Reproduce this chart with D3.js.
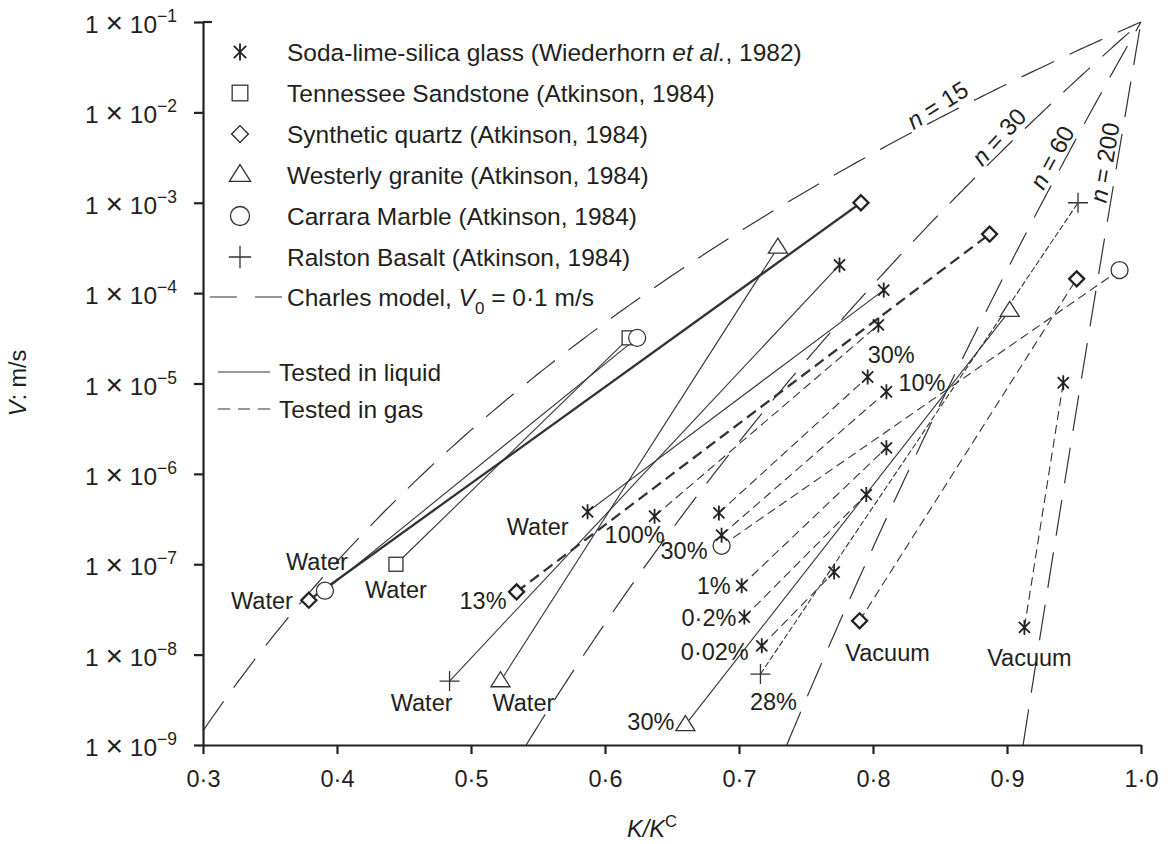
<!DOCTYPE html>
<html>
<head>
<meta charset="utf-8">
<script src="https://cdn.jsdelivr.net/npm/d3@7"></script>
<style>
  body { margin: 0; background: #fff; }
  text { font-family: "Liberation Sans", Arial, sans-serif; fill: #231f20; }
</style>
</head>
<body>
<div id="viz"></div>
<script>

// axis ticks
const xTicks = [0.3, 0.4, 0.5, 0.6, 0.7, 0.8, 0.9, 1.0];
const yTickExps = [-1, -2, -3, -4, -5, -6, -7, -8, -9];

// Charles model V = V0 (K/Kc)^n
const charlesV0 = 0.1;
const charlesN = [15, 30, 60, 200];
const charlesLabelK = [0.853, 0.9007, 0.9418, 0.982];

// test lines, low end (K1, V1) -> high end (K2, V2)
const segMaterial = ["quartz", "quartz", "quartz", "sandstone", "marble", "marble", "granite", "granite", "basalt", "basalt",
                     "glass", "glass", "glass", "glass", "glass", "glass", "glass", "glass"];
const segEnv = ["Water", "13%", "Vacuum", "Water", "Water", "30%", "Water", "30%", "Water", "28%",
                "Water", "100%", "30%", "10%", "1%", "0·2%", "0·02%", "Vacuum"];
const segStyle = ["solid", "dashed", "dashed", "solid", "solid", "dashed", "solid", "solid", "solid", "dashed",
                  "solid", "dashed", "dashed", "dashed", "dashed", "dashed", "dashed", "dashed"];
const segK1 = [0.379, 0.534, 0.790, 0.444, 0.391, 0.687, 0.522, 0.660, 0.484, 0.716,
               0.587, 0.637, 0.685, 0.687, 0.702, 0.704, 0.717, 0.913];
const segV1 = [4.0e-8, 4.95e-8, 2.37e-8, 1.0e-7, 5.1e-8, 1.6e-7, 5.1e-9, 1.67e-9, 5.1e-9, 6.1e-9,
               3.8e-7, 3.4e-7, 3.7e-7, 2.1e-7, 5.8e-8, 2.6e-8, 1.25e-8, 2.0e-8];
const segK2 = [0.791, 0.887, 0.952, 0.618, 0.624, 0.984, 0.729, 0.902, 0.775, 0.953,
               0.808, 0.804, 0.796, 0.810, 0.810, 0.795, 0.771, 0.942];
const segV2 = [1.0e-3, 4.5e-4, 1.44e-4, 3.2e-5, 3.2e-5, 1.8e-4, 3.2e-4, 6.4e-5, 2.05e-4, 1.0e-3,
               1.08e-4, 4.45e-5, 1.18e-5, 8.1e-6, 1.94e-6, 5.9e-7, 8.2e-8, 1.02e-5];
// which end carries the text label (1 = low end, 2 = high end)
const segLabelEnd = [1, 1, 1, 1, 1, 1, 1, 1, 1, 1, 1, 1, 2, 2, 1, 1, 1, 1];

const materialShape = { quartz: "diamond", sandstone: "square", marble: "circle", granite: "triangle", basalt: "plus", glass: "star" };

const legendShapes = ["star", "square", "diamond", "triangle", "circle", "plus"];
const legendTexts = [
    [["Soda-lime-silica glass (Wiederhorn ", ""], ["et al.", "i"], [", 1982)", ""]],
    [["Tennessee Sandstone (Atkinson, 1984)", ""]],
    [["Synthetic quartz (Atkinson, 1984)", ""]],
    [["Westerly granite (Atkinson, 1984)", ""]],
    [["Carrara Marble (Atkinson, 1984)", ""]],
    [["Ralston Basalt (Atkinson, 1984)", ""]]
];

const W = 1168, H = 844;
const svg = d3.select("#viz").append("svg").attr("width", W).attr("height", H);

const x = d3.scaleLinear().domain([0.3, 1.0]).range([203, 1141]);
const y = d3.scaleLog().domain([1e-9, 1e-1]).range([745, 22]);

const ink = "#333";

// label layout (px offsets from the labelled end)
const labelDx = [-16, -10, 28, 0, -8, -14, -8, -11, 3, 13, -19, -50, 0, 12, -11, -8, -13, 5];
const labelDy = [9, 17, 40, 34, -21, 13, 30, 5, 30, 36, 23, 27, -14, -1, 8, 9, 14, 39];
const labelAnchor = ["end", "end", "middle", "middle", "middle", "end", "start", "end", "end", "middle",
                     "end", "start", "start", "start", "end", "end", "end", "middle"];
const nLabelTilt = [-5, -3, 0, 0];

// ---- Charles model lines
const charlesLine = d3.line().x(d => x(d[0])).y(d => y(d[1]));
const cg = svg.append("g");
charlesN.forEach(function (n, i) {
    const kmin = Math.max(0.3, Math.pow(1e-9 / charlesV0, 1 / n));
    const pts = d3.range(0, 201).map(j => {
        const k = kmin + (1 - kmin) * j / 200;
        return [k, charlesV0 * Math.pow(k, n)];
    });
    cg.append("path")
        .attr("d", charlesLine(pts))
        .attr("fill", "none")
        .attr("stroke", ink)
        .attr("stroke-width", 1.2)
        .attr("stroke-dasharray", "36,17");

    // rotated n label
    const k = charlesLabelK[i];
    const px = x(k), py = y(charlesV0 * Math.pow(k, n));
    const k2 = k + 0.001;
    const ang = Math.atan2(y(charlesV0 * Math.pow(k2, n)) - py, x(k2) - px) * 180 / Math.PI + nLabelTilt[i];
    const t = cg.append("text")
        .attr("transform", `translate(${px},${py}) rotate(${ang})`)
        .attr("y", -4)
        .attr("text-anchor", "middle")
        .style("font-size", "24px");
    t.append("tspan").style("font-style", "italic").text("n");
    t.append("tspan").text(" = " + n);
});

// ---- test lines
const sg = svg.append("g");
segK1.forEach(function (k1, i) {
    const isBold = segMaterial[i] == "quartz" && segEnv[i] != "Vacuum";
    let dash = null;
    if (segStyle[i] == "dashed") dash = isBold ? "11,6" : "9,5";
    if (segMaterial[i] == "basalt" && segStyle[i] == "dashed") dash = "6,2.5";
    sg.append("line")
        .attr("x1", x(k1)).attr("y1", y(segV1[i]))
        .attr("x2", x(segK2[i])).attr("y2", y(segV2[i]))
        .attr("stroke", ink)
        .attr("stroke-width", isBold ? 2.3 : 1.1)
        .attr("stroke-dasharray", dash);
});

function marker(g, shape, cx, cy, sw, big) {
    const s = big ? 1.12 : 1;
    if (shape == "star") {
        const r = 7.5 * s, d = r * 0.74;
        g.append("path")
            .attr("d", `M${cx},${cy - r}V${cy + r}M${cx - d},${cy - d}L${cx + d},${cy + d}M${cx - d},${cy + d}L${cx + d},${cy - d}`)
            .attr("stroke", "#222").attr("stroke-width", 1.8).attr("fill", "none");
    } else if (shape == "square") {
        const h = 7 * s;
        g.append("rect").attr("x", cx - h).attr("y", cy - h).attr("width", 2 * h).attr("height", 2 * h)
            .attr("fill", "#fff").attr("stroke", ink).attr("stroke-width", sw);
    } else if (shape == "diamond") {
        const h = 7.5 * s;
        g.append("path").attr("d", `M${cx},${cy - h}L${cx + h},${cy}L${cx},${cy + h}L${cx - h},${cy}Z`)
            .attr("fill", "#fff").attr("stroke", "#222").attr("stroke-width", sw);
    } else if (shape == "triangle") {
        const w = 9.5 * s, h = 15 * s;
        g.append("path").attr("d", `M${cx},${cy - h * 0.62}L${cx + w},${cy + h * 0.38}L${cx - w},${cy + h * 0.38}Z`)
            .attr("fill", "#fff").attr("stroke", ink).attr("stroke-width", sw);
    } else if (shape == "circle") {
        g.append("circle").attr("cx", cx).attr("cy", cy).attr("r", 8.5 * s)
            .attr("fill", "#fff").attr("stroke", ink).attr("stroke-width", sw);
    } else if (shape == "plus") {
        const r = 10 * s;
        g.append("path").attr("d", `M${cx - r},${cy}H${cx + r}M${cx},${cy - r}V${cy + r}`)
            .attr("stroke", ink).attr("stroke-width", 1.3).attr("fill", "none");
    }
}

// ---- markers
const mg = svg.append("g");
segK1.forEach(function (k1, i) {
    const shape = materialShape[segMaterial[i]];
    const sw = shape == "diamond" ? 2.3 : 1.3;
    marker(mg, shape, x(k1), y(segV1[i]), sw, false);
    // the basalt water line tops out on a glass point
    const topShape = (segMaterial[i] == "basalt" && segEnv[i] == "Water") ? "star" : shape;
    marker(mg, topShape, x(segK2[i]), y(segV2[i]), sw, false);
});

// ---- point labels
const lg = svg.append("g");
segEnv.forEach(function (txt, i) {
    const k = segLabelEnd[i] == 1 ? segK1[i] : segK2[i];
    const v = segLabelEnd[i] == 1 ? segV1[i] : segV2[i];
    lg.append("text")
        .attr("x", x(k) + labelDx[i])
        .attr("y", y(v) + labelDy[i])
        .attr("text-anchor", labelAnchor[i])
        .style("font-size", "23.5px")
        .text(txt);
});

// ---- axes
const xAxis = d3.axisBottom(x)
    .tickValues(xTicks)
    .tickSize(9)
    .tickSizeOuter(0)
    .tickPadding(16)
    .tickFormat(d => d3.format(".1f")(d).replace(".", "·"));
const gx = svg.append("g").attr("transform", "translate(0,745)").call(xAxis);
gx.select(".domain").attr("stroke", "#222").attr("stroke-width", 2.2);
gx.selectAll(".tick line").attr("stroke", "#222").attr("stroke-width", 2.2);
gx.selectAll(".tick text").style("font-size", "23.5px").attr("fill", "#231f20")
    .style("font-family", "'Liberation Sans', Arial, sans-serif");

const yAxis = d3.axisLeft(y)
    .tickValues(yTickExps.map(e => Math.pow(10, e)))
    .tickSize(9)
    .tickSizeOuter(0)
    .tickFormat("");
const gy = svg.append("g").attr("transform", "translate(203,0)").call(yAxis);
gy.select(".domain").attr("stroke", "#222").attr("stroke-width", 2.2);
gy.selectAll(".tick line").attr("stroke", "#222").attr("stroke-width", 2.2);
// cap on top
svg.append("line").attr("x1", 203).attr("x2", 212).attr("y1", y(1e-1)).attr("y2", y(1e-1))
    .attr("stroke", "#222").attr("stroke-width", 2.2);

yTickExps.forEach(function (e) {
    const t = svg.append("text")
        .attr("x", 177)
        .attr("y", y(Math.pow(10, e)) + 11)
        .attr("text-anchor", "end")
        .style("font-size", "24.5px");
    t.append("tspan").text("1 ");
    t.append("tspan").style("font-size", "30px").text("×");
    t.append("tspan").text(" 10");
    t.append("tspan").attr("dy", -11).style("font-size", "17.5px").text("−" + (-e));
});

// axis titles
const yt = svg.append("text")
    .attr("transform", "translate(26,383) rotate(-90)")
    .attr("text-anchor", "middle")
    .style("font-size", "23.5px");
yt.append("tspan").style("font-style", "italic").text("V");
yt.append("tspan").text(": m/s");

const xt = svg.append("text")
    .attr("x", 652).attr("y", 837)
    .attr("text-anchor", "middle")
    .style("font-size", "23.5px");
xt.append("tspan").style("font-style", "italic").text("K/K");
xt.append("tspan").attr("dy", -10).style("font-size", "16.5px").text("C");

// ---- legend
const leg = svg.append("g");
legendShapes.forEach(function (shape, i) {
    const cy = 52 + i * 41;
    marker(leg, shape, 240, cy, 1.3, true);
    const t = leg.append("text").attr("x", 287).attr("y", cy + 9).style("font-size", "24.5px");
    legendTexts[i].forEach(p => {
        const s = t.append("tspan").text(p[0]);
        if (p[1] == "i") s.style("font-style", "italic");
    });
});
// Charles legend row
leg.append("line").attr("x1", 210).attr("x2", 282).attr("y1", 297).attr("y2", 297)
    .attr("stroke", ink).attr("stroke-width", 1.2).attr("stroke-dasharray", "27,18");
const ct = leg.append("text").attr("x", 287).attr("y", 306).style("font-size", "24.5px");
ct.append("tspan").text("Charles model, ");
ct.append("tspan").style("font-style", "italic").text("V");
ct.append("tspan").attr("dy", 8).style("font-size", "17px").text("0");
ct.append("tspan").attr("dy", -8).text(" = 0·1 m/s");

// medium legend
leg.append("line").attr("x1", 218).attr("x2", 270).attr("y1", 372).attr("y2", 372)
    .attr("stroke", ink).attr("stroke-width", 1.1);
leg.append("text").attr("x", 279).attr("y", 381).style("font-size", "24.5px").text("Tested in liquid");
leg.append("line").attr("x1", 218).attr("x2", 270).attr("y1", 409).attr("y2", 409)
    .attr("stroke", ink).attr("stroke-width", 1.1).attr("stroke-dasharray", "12,8");
leg.append("text").attr("x", 279).attr("y", 418).style("font-size", "24.5px").text("Tested in gas");

</script>
</body>
</html>
